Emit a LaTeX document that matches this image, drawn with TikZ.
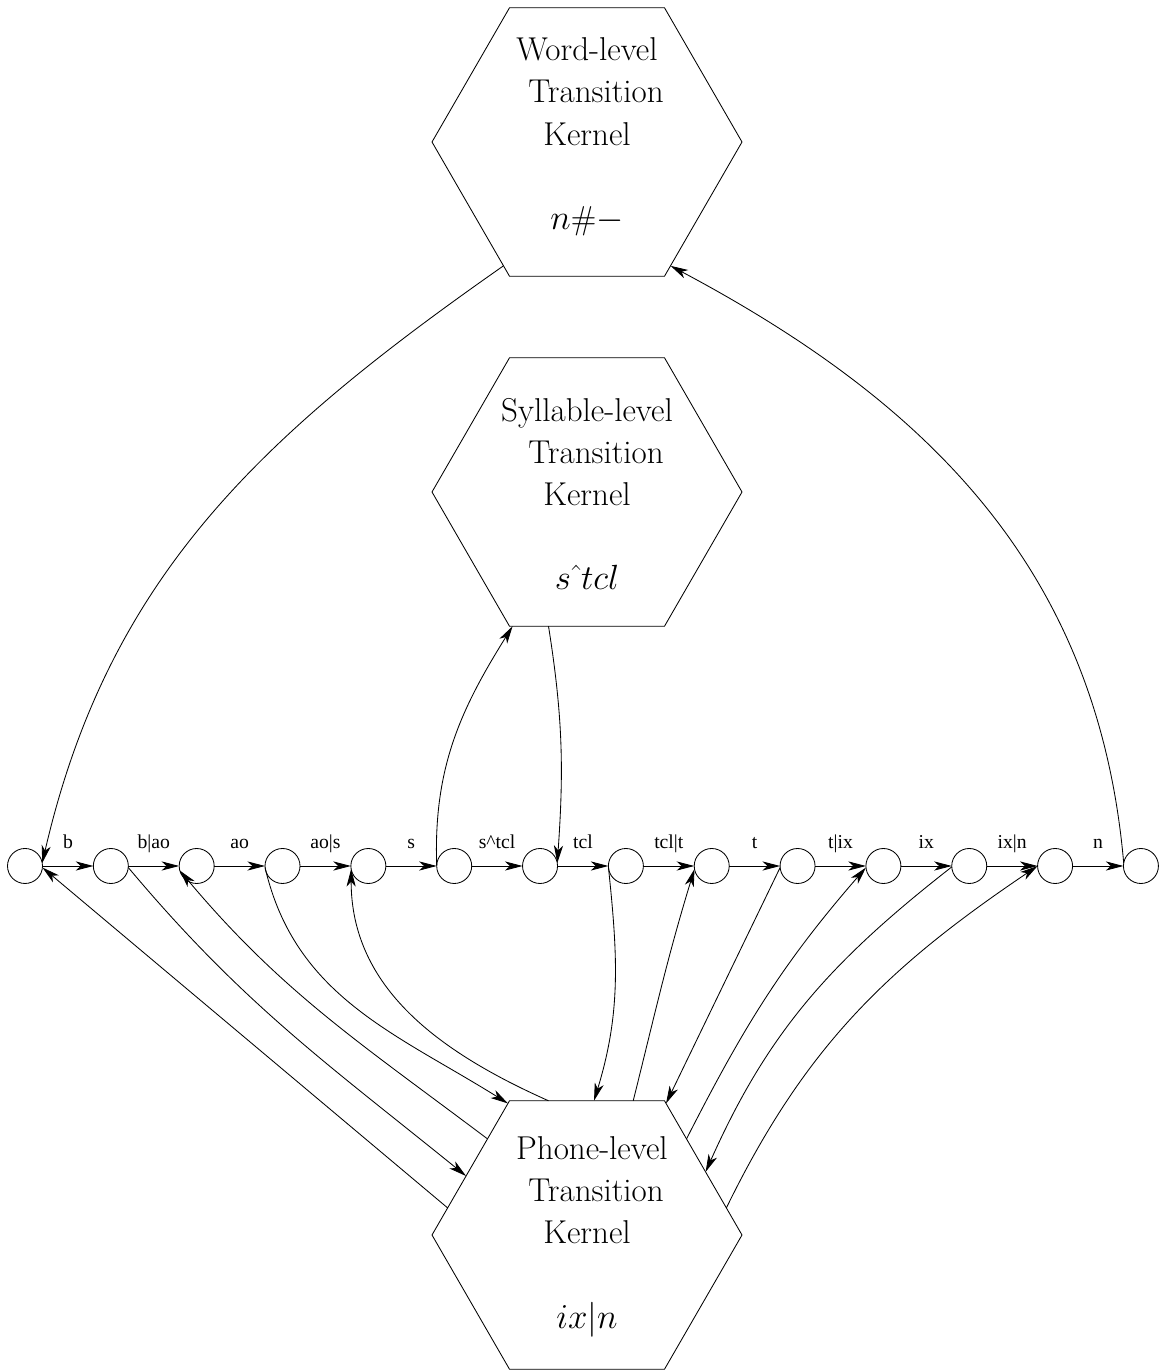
\documentclass[tikz,border=0pt]{standalone}
\usepackage{fontspec}
\newfontfamily\lblfont{Liberation Serif}
\usetikzlibrary{shapes.geometric,arrows.meta}

\tikzset{
  st/.style={draw,circle,minimum size=0.875cm,inner sep=0pt,outer sep=0pt},
  kernel/.style={draw,regular polygon,regular polygon sides=6,minimum size=7.75cm,inner sep=0pt,outer sep=0pt},
  ktext/.style={align=center,font=\fontsize{23.5}{30}\selectfont},
  arr/.style={-{Stealth[length=12.5pt,width=6.5pt,inset=3.5pt]}},
  lbl/.style={font=\lblfont\fontsize{14}{16}\selectfont,anchor=base,yshift=0.425cm}
}

\begin{document}
\begin{tikzpicture}[line width=0.6pt]
\useasboundingbox (0,0) rectangle (28.975,34.25);

% kernels
\node[kernel] (word) at (14.675,30.7) {};
\node[ktext,yshift=0.13cm] (wordtxt) at (word.center) {Word-level\\ \hspace*{0.55em}Transition\\ Kernel\\[30pt] $n\#-$};

\node[kernel] (syl) at (14.675,21.95) {};
\node[ktext,yshift=-0.05cm] (syltxt) at (syl.center) {Syllable-level\\ \hspace*{0.55em}Transition\\ Kernel\\[30pt] $s\hat{\ }tcl$};

\node[kernel] (phone) at (14.675,3.375) {};
\node[ktext,yshift=-0.04cm] (phonetxt) at (phone.center) {\hspace*{0.3em}Phone-level\\ \hspace*{0.55em}Transition\\ Kernel\\[30pt] $ix|n$};

% state chain
\node[st] (s0) at (0.625,12.6) {};   \node[st] (s1) at (2.771,12.6) {};
\node[st] (s2) at (4.917,12.6) {};   \node[st] (s3) at (7.063,12.6) {};
\node[st] (s4) at (9.209,12.6) {};   \node[st] (s5) at (11.355,12.6) {};
\node[st] (s6) at (13.501,12.6) {};  \node[st] (s7) at (15.647,12.6) {};
\node[st] (s8) at (17.793,12.6) {};  \node[st] (s9) at (19.939,12.6) {};
\node[st] (s10) at (22.085,12.6) {}; \node[st] (s11) at (24.231,12.6) {};
\node[st] (s12) at (26.377,12.6) {}; \node[st] (s13) at (28.523,12.6) {};

\draw[arr] (s0) -- node[lbl]{b} (s1);
\draw[arr] (s1) -- node[lbl]{b|ao} (s2);
\draw[arr] (s2) -- node[lbl]{ao} (s3);
\draw[arr] (s3) -- node[lbl]{ao|s} (s4);
\draw[arr] (s4) -- node[lbl]{s} (s5);
\draw[arr] (s5) -- node[lbl]{s\textasciicircum tcl} (s6);
\draw[arr] (s6) -- node[lbl]{tcl} (s7);
\draw[arr] (s7) -- node[lbl]{tcl|t} (s8);
\draw[arr] (s8) -- node[lbl]{t} (s9);
\draw[arr] (s9) -- node[lbl]{t|ix} (s10);
\draw[arr] (s10) -- node[lbl]{ix} (s11);
\draw[arr] (s11) -- node[lbl]{ix|n} (s12);
\draw[arr] (s12) -- node[lbl]{n} (s13);

% word level
\draw[arr] (word.236) to[out=215,in=77] (s0.10);
\draw[arr] (s13.170) to[out=95,in=-28] (word.304);

% syllable level
\draw[arr] (s5.180) to[out=92,in=238] (syl.241);
\draw[arr] (syl.254) to[out=-81,in=86] (s6.10);

% phone level
\draw[arr] (phone.169) -- (s0.-5);
\draw[arr] (s1.-5) to[out=-50,in=141] (phone.154);
\draw[arr] (phone.136) to[out=143,in=-50] (s2.195);
\draw[arr] (s3.185) to[out=-77,in=148] (phone.121);
\draw[arr] (phone.106) to[out=156,in=-90] (s4.190);
\draw[arr] (s7.185) to[out=-84,in=73] (phone.87);
\draw[arr] (phone.71) to[out=76,in=-107] (s8.190);
\draw[arr] (s9.185) -- (phone.59);
\draw[arr] (phone.44) to[out=63,in=229] (s10.185);
\draw[arr] (s11.183) to[out=218,in=66] (phone.28);
\draw[arr] (phone.11) to[out=64,in=214] (s12.180);

%\draw[arr] (phone.71) -- (s8.190);

\end{tikzpicture}
\end{document}
